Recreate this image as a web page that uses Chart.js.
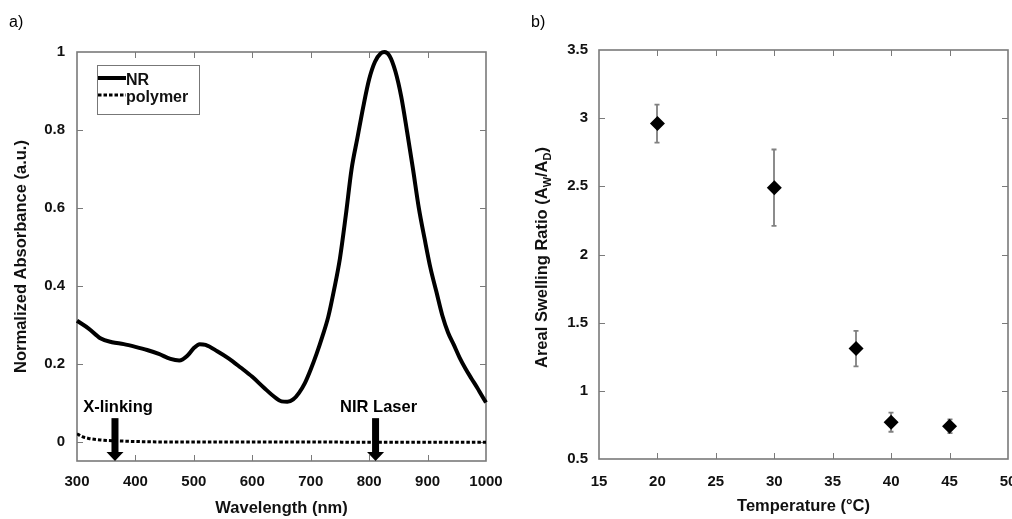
<!DOCTYPE html>
<html>
<head>
<meta charset="utf-8">
<script src="https://cdn.jsdelivr.net/npm/chart.js@4.4.0/dist/chart.umd.min.js"></script>
<style>
  html, body { margin: 0; padding: 0; background: #fff; }
  body { width: 1012px; height: 519px; position: relative; overflow: hidden; font-family: "Liberation Sans", Arial, sans-serif; }
  .panel { position: absolute; top: 0; height: 519px; overflow: hidden; }
  #panelA { left: 0; width: 510px; }
  #panelB { left: 500px; width: 512px; }
  .panel canvas { position: absolute; left: 0; top: 0; }
  .tag { position: absolute; font-size: 16px; color: #000; }
</style>
</head>
<body>
<div class="panel" id="panelA"><canvas id="absorbance-chart" width="530" height="519" style="width:530px;height:519px"></canvas></div>
<div class="panel" id="panelB"><canvas id="swelling-chart" width="540" height="519" style="width:540px;height:519px"></canvas></div>
<div class="tag" style="left:9px; top:13px;">a)</div>
<div class="tag" style="left:531px; top:13px;">b)</div>
<script>
// panel a) - absorbance spectra
const wavelengthNR = [300, 320, 340, 360, 380, 400, 420, 440, 460, 475, 490, 500, 510, 520, 540, 560, 580, 600, 620, 640, 650, 660, 670, 680, 690, 700, 710, 720, 730, 740, 750, 760, 770, 780, 790, 800, 810, 820, 826, 835, 845, 855, 865, 875, 885, 895, 905, 915, 925, 935, 945, 955, 965, 975, 985, 992, 1000];
const absorbanceNR = [0.31, 0.29, 0.265, 0.255, 0.25, 0.243, 0.235, 0.225, 0.212, 0.208, 0.222, 0.24, 0.25, 0.248, 0.232, 0.213, 0.19, 0.166, 0.138, 0.112, 0.103, 0.102, 0.108, 0.125, 0.15, 0.185, 0.225, 0.27, 0.32, 0.39, 0.47, 0.58, 0.70, 0.78, 0.86, 0.93, 0.975, 0.997, 1.0, 0.99, 0.95, 0.885, 0.795, 0.70, 0.60, 0.52, 0.445, 0.385, 0.325, 0.28, 0.248, 0.215, 0.187, 0.162, 0.138, 0.12, 0.1];
const wavelengthPolymer = [300, 310, 320, 340, 360, 380, 400, 450, 500, 600, 700, 800, 900, 1000];
const absorbancePolymer = [0.02, 0.012, 0.008, 0.004, 0.002, 0.001, 0, -0.001, -0.001, -0.001, -0.001, -0.002, -0.002, -0.002];
const absorbanceTicks = [0, 0.2, 0.4, 0.6, 0.8, 1];
const markerWavelengths = [365, 811];
const markerLabels = ['X-linking', 'NIR Laser'];
const markerArrowTop = 0.06;
const markerLabelLevel = 0.088;

// panel b) - swelling vs temperature
const temperatures = [20, 30, 37, 40, 45];
const swellingRatio = [2.96, 2.49, 1.31, 0.77, 0.74];
const swellingError = [0.14, 0.28, 0.13, 0.07, 0.05];

Chart.defaults.font.family = '"Liberation Sans", Arial, sans-serif';
Chart.defaults.color = '#111';

const FRAME = '#7a7a7a';

// box around plot area + inward ticks on all four sides
const frameTicks = {
    id: 'frameTicks',
    beforeDatasetsDraw(chart) {
        const ctx = chart.ctx;
        const a = chart.chartArea;
        const xs = chart.scales.x, ys = chart.scales.y;
        ctx.save();
        ctx.strokeStyle = FRAME;
        ctx.lineWidth = 1;
        ctx.beginPath();
        xs.ticks.forEach(t => {
            const px = Math.round(xs.getPixelForValue(t.value)) + 0.5;
            if (px <= a.left + 1 || px >= a.right - 1) return;
            ctx.moveTo(px, a.bottom); ctx.lineTo(px, a.bottom - 6);
            ctx.moveTo(px, a.top); ctx.lineTo(px, a.top + 6);
        });
        ys.ticks.forEach(t => {
            const py = Math.round(ys.getPixelForValue(t.value)) + 0.5;
            if (py <= a.top + 1 || py >= a.bottom - 1) return;
            ctx.moveTo(a.left, py); ctx.lineTo(a.left + 6, py);
            ctx.moveTo(a.right, py); ctx.lineTo(a.right - 6, py);
        });
        ctx.stroke();
        ctx.lineWidth = 1.6;
        ctx.strokeRect(a.left, a.top, a.right - a.left, a.bottom - a.top);
        ctx.restore();
    }
};

// legend box inside the plot (panel a)
const boxLegend = {
    id: 'boxLegend',
    afterDraw(chart) {
        const ctx = chart.ctx;
        const a = chart.chartArea;
        const x0 = a.left + 20, y0 = a.top + 13;
        ctx.save();
        ctx.fillStyle = '#fff';
        ctx.fillRect(x0, y0, 102, 49);
        ctx.strokeStyle = '#777';
        ctx.lineWidth = 1;
        ctx.strokeRect(x0 + 0.5, y0 + 0.5, 102, 49);
        chart.data.datasets.forEach((ds, i) => {
            const y = y0 + 13 + i * 17;
            ctx.strokeStyle = ds.borderColor;
            ctx.lineWidth = ds.borderWidth;
            ctx.setLineDash(ds.borderDash || []);
            ctx.beginPath();
            ctx.moveTo(x0 + 1, y); ctx.lineTo(x0 + 29, y);
            ctx.stroke();
            ctx.setLineDash([]);
            ctx.fillStyle = '#111';
            ctx.font = 'bold 16px "Liberation Sans", Arial, sans-serif';
            ctx.textBaseline = 'middle';
            ctx.fillText(ds.label, x0 + 29, y + 2.5);
        });
        ctx.restore();
    }
};

// arrows marking the crosslinking and laser wavelengths (panel a)
const wavelengthMarkers = {
    id: 'wavelengthMarkers',
    afterDatasetsDraw(chart) {
        const ctx = chart.ctx;
        const xs = chart.scales.x, ys = chart.scales.y;
        ctx.save();
        ctx.fillStyle = '#000';
        markerWavelengths.forEach((w, i) => {
            const px = xs.getPixelForValue(w);
            const top = ys.getPixelForValue(markerArrowTop);
            const tip = ys.getPixelForValue(ys.min);
            ctx.fillRect(px - 3.5, top, 7, tip - top - 8);
            ctx.beginPath();
            ctx.moveTo(px - 8.5, tip - 9);
            ctx.lineTo(px + 8.5, tip - 9);
            ctx.lineTo(px, tip);
            ctx.closePath();
            ctx.fill();
            ctx.font = 'bold 16.5px "Liberation Sans", Arial, sans-serif';
            ctx.textAlign = 'center';
            ctx.textBaseline = 'middle';
            ctx.fillText(markerLabels[i], px + 3, ys.getPixelForValue(markerLabelLevel));
        });
        ctx.restore();
    }
};

// vertical error bars (panel b)
const errorBars = {
    id: 'errorBars',
    beforeDatasetsDraw(chart) {
        const ctx = chart.ctx;
        const xs = chart.scales.x, ys = chart.scales.y;
        ctx.save();
        ctx.strokeStyle = '#808080';
        ctx.lineWidth = 1.8;
        ctx.beginPath();
        temperatures.forEach((t, i) => {
            const px = Math.round(xs.getPixelForValue(t));
            const hi = ys.getPixelForValue(swellingRatio[i] + swellingError[i]);
            const lo = ys.getPixelForValue(swellingRatio[i] - swellingError[i]);
            ctx.moveTo(px, hi); ctx.lineTo(px, lo);
            ctx.moveTo(px - 2.5, hi); ctx.lineTo(px + 2.5, hi);
            ctx.moveTo(px - 2.5, lo); ctx.lineTo(px + 2.5, lo);
        });
        ctx.stroke();
        ctx.restore();
    }
};

// y title with subscripts (panel b)
const subscriptTitle = {
    id: 'subscriptTitle',
    afterDraw(chart) {
        const ctx = chart.ctx;
        const a = chart.chartArea;
        const parts = [['Areal Swelling Ratio (A', false], ['W', true], ['/A', false], ['D', true], [')', false]];
        const big = 'bold 16.5px "Liberation Sans", Arial, sans-serif';
        const small = 'bold 11px "Liberation Sans", Arial, sans-serif';
        ctx.save();
        let total = 0;
        parts.forEach(p => { ctx.font = p[1] ? small : big; total += ctx.measureText(p[0]).width; });
        ctx.translate(41, (a.top + a.bottom) / 2 + 3);
        ctx.rotate(-Math.PI / 2);
        ctx.fillStyle = '#111';
        ctx.textBaseline = 'alphabetic';
        let x = -total / 2;
        parts.forEach(p => {
            ctx.font = p[1] ? small : big;
            ctx.fillText(p[0], x, p[1] ? 10 : 6);
            x += ctx.measureText(p[0]).width;
        });
        ctx.restore();
    }
};

const tickFont = { size: 15, weight: 'bold' };
const titleFont = { size: 16.5, weight: 'bold' };
const plainLabel = v => String(v);

new Chart(document.getElementById('absorbance-chart').getContext('2d'), {
    type: 'line',
    data: {
        datasets: [{
            label: 'NR',
            data: wavelengthNR.map((w, i) => ({ x: w, y: absorbanceNR[i] })),
            borderColor: '#000',
            borderWidth: 4,
            pointRadius: 0,
            cubicInterpolationMode: 'monotone',
            clip: false
        }, {
            label: 'polymer',
            data: wavelengthPolymer.map((w, i) => ({ x: w, y: absorbancePolymer[i] })),
            borderColor: '#000',
            borderWidth: 3,
            borderDash: [3.5, 2],
            pointRadius: 0,
            cubicInterpolationMode: 'monotone'
        }]
    },
    options: {
        responsive: false,
        animation: false,
        layout: { padding: { top: 52, right: 44, left: 0, bottom: 0 } },
        plugins: { legend: { display: false }, tooltip: { enabled: false } },
        scales: {
            x: {
                type: 'linear',
                min: 300,
                max: 1000,
                grid: { display: false },
                border: { display: false },
                ticks: { stepSize: 100, font: tickFont, padding: 4, callback: plainLabel },
                title: { display: true, text: 'Wavelength (nm)', font: titleFont, padding: { top: 0, bottom: 1 } },
                afterFit(scale) { scale.height = 58; }
            },
            y: {
                min: -0.05,
                max: 1,
                grid: { display: false },
                border: { display: false },
                afterBuildTicks(scale) { scale.ticks = absorbanceTicks.map(v => ({ value: v })); },
                ticks: { font: tickFont, padding: 4, callback: plainLabel },
                title: { display: true, text: 'Normalized Absorbance (a.u.)', font: titleFont, padding: { top: 12, bottom: 0 } },
                afterFit(scale) { scale.width = 77; }
            }
        }
    },
    plugins: [frameTicks, wavelengthMarkers, boxLegend]
});

new Chart(document.getElementById('swelling-chart').getContext('2d'), {
    type: 'scatter',
    data: {
        datasets: [{
            label: 'swelling',
            data: temperatures.map((t, i) => ({ x: t, y: swellingRatio[i] })),
            pointStyle: 'rectRot',
            pointRadius: 7.5,
            backgroundColor: '#000',
            borderColor: '#000',
            borderWidth: 0
        }]
    },
    options: {
        responsive: false,
        animation: false,
        layout: { padding: { top: 50, right: 32, left: 0, bottom: 0 } },
        plugins: { legend: { display: false }, tooltip: { enabled: false } },
        scales: {
            x: {
                type: 'linear',
                min: 15,
                max: 50,
                grid: { display: false },
                border: { display: false },
                ticks: { stepSize: 5, font: tickFont, padding: 6, callback: plainLabel },
                title: { display: true, text: 'Temperature (°C)', font: titleFont, padding: { top: 0, bottom: 3 } },
                afterFit(scale) { scale.height = 60; }
            },
            y: {
                min: 0.5,
                max: 3.5,
                grid: { display: false },
                border: { display: false },
                ticks: { stepSize: 0.5, font: tickFont, padding: 3, callback: plainLabel },
                afterFit(scale) { scale.width = 99; }
            }
        }
    },
    plugins: [frameTicks, errorBars, subscriptTitle]
});
</script>
</body>
</html>
